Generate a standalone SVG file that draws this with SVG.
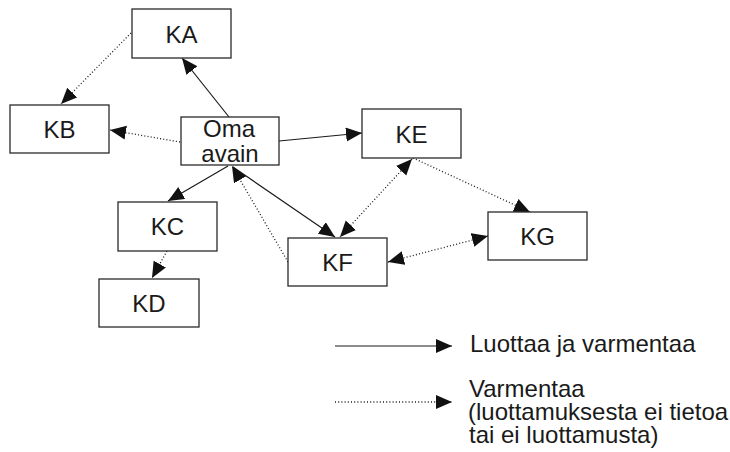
<svg xmlns="http://www.w3.org/2000/svg" width="730" height="452" viewBox="0 0 730 452">
  <style>
    .box { fill: #ffffff; stroke: #2a2a2a; stroke-width: 1.3; }
    .lbl { font-family: "Liberation Sans", Arial, sans-serif; font-size: 24px; fill: #1a1a1a; text-anchor: middle; }
    .legend { font-family: "Liberation Sans", Arial, sans-serif; font-size: 24px; fill: #1a1a1a; }
    .solid { stroke: #1a1a1a; stroke-width: 1.2; fill: none; }
    .dotted { stroke: #1a1a1a; stroke-width: 1.3; fill: none; stroke-dasharray: 1 2.2; }
  </style>
  <defs>
    <marker id="head" markerUnits="userSpaceOnUse" markerWidth="17" markerHeight="15" refX="16" refY="7" orient="auto-start-reverse">
      <path d="M0,0 L16,7 L0,14 z" fill="#111111"/>
    </marker>
  </defs>

  <rect width="730" height="452" fill="#ffffff"/>

  <!-- connectors -->
  <g id="connectors">
    <line class="solid" x1="229" y1="117" x2="182" y2="58" marker-end="url(#head)"/>
    <line class="dotted" x1="131" y1="33" x2="61" y2="104" marker-end="url(#head)"/>
    <line class="dotted" x1="180" y1="142" x2="110" y2="130" marker-end="url(#head)"/>
    <line class="solid" x1="279" y1="141" x2="362" y2="133" marker-end="url(#head)"/>
    <line class="solid" x1="228" y1="166" x2="168" y2="201" marker-end="url(#head)"/>
    <line class="solid" x1="233" y1="167" x2="335" y2="237" marker-end="url(#head)"/>
    <line class="dotted" x1="288" y1="262" x2="232" y2="166" marker-end="url(#head)"/>
    <line class="dotted" x1="412" y1="159" x2="340" y2="237" marker-start="url(#head)" marker-end="url(#head)"/>
    <line class="dotted" x1="413" y1="158" x2="530" y2="212" marker-end="url(#head)"/>
    <line class="dotted" x1="388" y1="262" x2="488" y2="236" marker-start="url(#head)" marker-end="url(#head)"/>
    <line class="dotted" x1="167" y1="251" x2="152" y2="278" marker-end="url(#head)"/>
  </g>

  <!-- nodes -->
  <g id="KA">
    <rect class="box" x="132" y="9" width="99" height="49"/>
    <text class="lbl" x="181.5" y="42.5">KA</text>
  </g>
  <g id="KB">
    <rect class="box" x="10" y="105" width="99" height="48"/>
    <text class="lbl" x="59.5" y="138">KB</text>
  </g>
  <g id="Oma">
    <rect class="box" x="181" y="117" width="98" height="48"/>
    <text class="lbl" x="229" y="137">Oma</text>
    <text class="lbl" x="230" y="162">avain</text>
  </g>
  <g id="KE">
    <rect class="box" x="362" y="109" width="99" height="49"/>
    <text class="lbl" x="411.5" y="143">KE</text>
  </g>
  <g id="KG">
    <rect class="box" x="488" y="212" width="99" height="48"/>
    <text class="lbl" x="537.5" y="245">KG</text>
  </g>
  <g id="KF">
    <rect class="box" x="288" y="238" width="99" height="48"/>
    <text class="lbl" x="337.5" y="271">KF</text>
  </g>
  <g id="KC">
    <rect class="box" x="118" y="202" width="99" height="49"/>
    <text class="lbl" x="167.5" y="235">KC</text>
  </g>
  <g id="KD">
    <rect class="box" x="99" y="279" width="100" height="48"/>
    <text class="lbl" x="149" y="312">KD</text>
  </g>

  <!-- legend -->
  <g id="legend">
    <line class="solid" x1="335" y1="346" x2="452" y2="346" marker-end="url(#head)"/>
    <text class="legend" x="470" y="352">Luottaa ja varmentaa</text>
    <line class="dotted" x1="335" y1="402" x2="452" y2="402" marker-end="url(#head)"/>
    <text class="legend" x="469" y="397">Varmentaa</text>
    <text class="legend" x="468" y="420">(luottamuksesta ei tietoa</text>
    <text class="legend" x="469" y="443">tai ei luottamusta)</text>
  </g>
</svg>
